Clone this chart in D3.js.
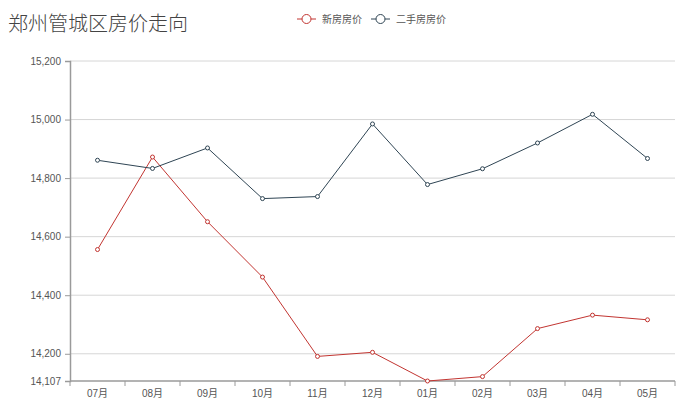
<!DOCTYPE html>
<html>
<head>
<meta charset="utf-8">
<script src="https://cdn.jsdelivr.net/npm/d3@7"></script>
<style>
  html, body { margin: 0; padding: 0; background: #fff; }
  svg { display: block; font-family: "Liberation Sans", Arial, "Noto Sans CJK SC", sans-serif; }
</style>
</head>
<body>
<svg id="chart" width="692" height="414"></svg>
<script>
// Monthly average price (元/㎡) in 管城区, 郑州
const months = ["07月", "08月", "09月", "10月", "11月", "12月", "01月", "02月", "03月", "04月", "05月"];
const newHomePrices = [14556, 14872, 14651, 14462, 14191, 14205, 14107, 14122, 14286, 14332, 14316];
const resalePrices  = [14861, 14833, 14903, 14730, 14737, 14985, 14778, 14832, 14920, 15018, 14867];
const yTicks = [14107, 14200, 14400, 14600, 14800, 15000, 15200];
const seriesNames = ["新房房价", "二手房房价"];
const seriesColors = ["#c23531", "#2f4554"];

const svg = d3.select("#chart");
const margin = { left: 70, right: 17, top: 61, bottom: 33 };
const W = 692, H = 414;

const x = d3.scaleBand().domain(months).range([margin.left, W - margin.right]);
const y = d3.scaleLinear().domain([14107, 15200]).range([H - margin.bottom, margin.top]);

// horizontal grid lines
svg.append("g")
  .selectAll("line")
  .data(yTicks.filter(t => t !== 14107))
  .join("line")
  .attr("x1", margin.left).attr("x2", W - margin.right)
  .attr("y1", d => y(d)).attr("y2", d => y(d))
  .attr("stroke", "#d6d6d6").attr("stroke-width", 1);

// y axis
const yAxis = svg.append("g")
  .attr("transform", `translate(${margin.left},0)`)
  .call(d3.axisLeft(y).tickValues(yTicks).tickFormat(d3.format(",")).tickSize(5).tickPadding(4));
yAxis.select(".domain").attr("stroke", "#9a9a9a").attr("stroke-width", 1.5);
yAxis.selectAll(".tick line").attr("stroke", "#9a9a9a");
yAxis.selectAll(".tick text").attr("fill", "#555").style("font-size", "10px");

// x axis: ticks on band boundaries, labels centred in each band
const xAxisG = svg.append("g")
  .attr("transform", `translate(0,${H - margin.bottom})`);
xAxisG.append("line")
  .attr("x1", margin.left).attr("x2", W - margin.right)
  .attr("stroke", "#9a9a9a").attr("stroke-width", 1.5);
const boundaries = months.map(m => x(m)).concat([x(months[months.length - 1]) + x.bandwidth()]);
xAxisG.selectAll("line.tick")
  .data(boundaries)
  .join("line")
  .attr("class", "tick")
  .attr("x1", d => d).attr("x2", d => d)
  .attr("y1", 0).attr("y2", 5)
  .attr("stroke", "#9a9a9a");
xAxisG.selectAll("text")
  .data(months)
  .join("text")
  .attr("x", d => x(d) + x.bandwidth() / 2)
  .attr("y", 16)
  .attr("text-anchor", "middle")
  .attr("fill", "#555")
  .style("font-size", "10px")
  .text(d => d);

// series lines and markers
const line = d3.line()
  .x((d, i) => x(months[i]) + x.bandwidth() / 2)
  .y(d => y(d));

[newHomePrices, resalePrices].forEach((vals, s) => {
  const g = svg.append("g");
  g.append("path")
    .datum(vals)
    .attr("d", line)
    .attr("fill", "none")
    .attr("stroke", seriesColors[s])
    .attr("stroke-width", 1);
  g.selectAll("circle")
    .data(vals)
    .join("circle")
    .attr("cx", (d, i) => x(months[i]) + x.bandwidth() / 2)
    .attr("cy", d => y(d))
    .attr("r", 2)
    .attr("fill", "#fff")
    .attr("stroke", seriesColors[s])
    .attr("stroke-width", 1);
});

// title
svg.append("text")
  .attr("x", 8).attr("y", 31)
  .attr("fill", "#444")
  .style("font-family", "'Noto Sans CJK SC', sans-serif")
  .style("font-weight", 300)
  .style("font-size", "20px")
  .text("郑州管城区房价走向");

// legend
const legendX = [297, 371];
seriesNames.forEach((name, s) => {
  const g = svg.append("g").attr("transform", `translate(${legendX[s]},19)`);
  g.append("line").attr("x1", 0).attr("x2", 19).attr("y1", 0).attr("y2", 0)
    .attr("stroke", seriesColors[s]).attr("stroke-width", 1);
  g.append("circle").attr("cx", 9.5).attr("cy", 0).attr("r", 4.5)
    .attr("fill", "#fff").attr("stroke", seriesColors[s]).attr("stroke-width", 1);
  g.append("text").attr("x", 25).attr("y", 3.5)
    .attr("fill", "#555")
    .style("font-family", "'Noto Sans CJK SC', sans-serif")
    .style("font-size", "10px")
    .text(name);
});
</script>
</body>
</html>
